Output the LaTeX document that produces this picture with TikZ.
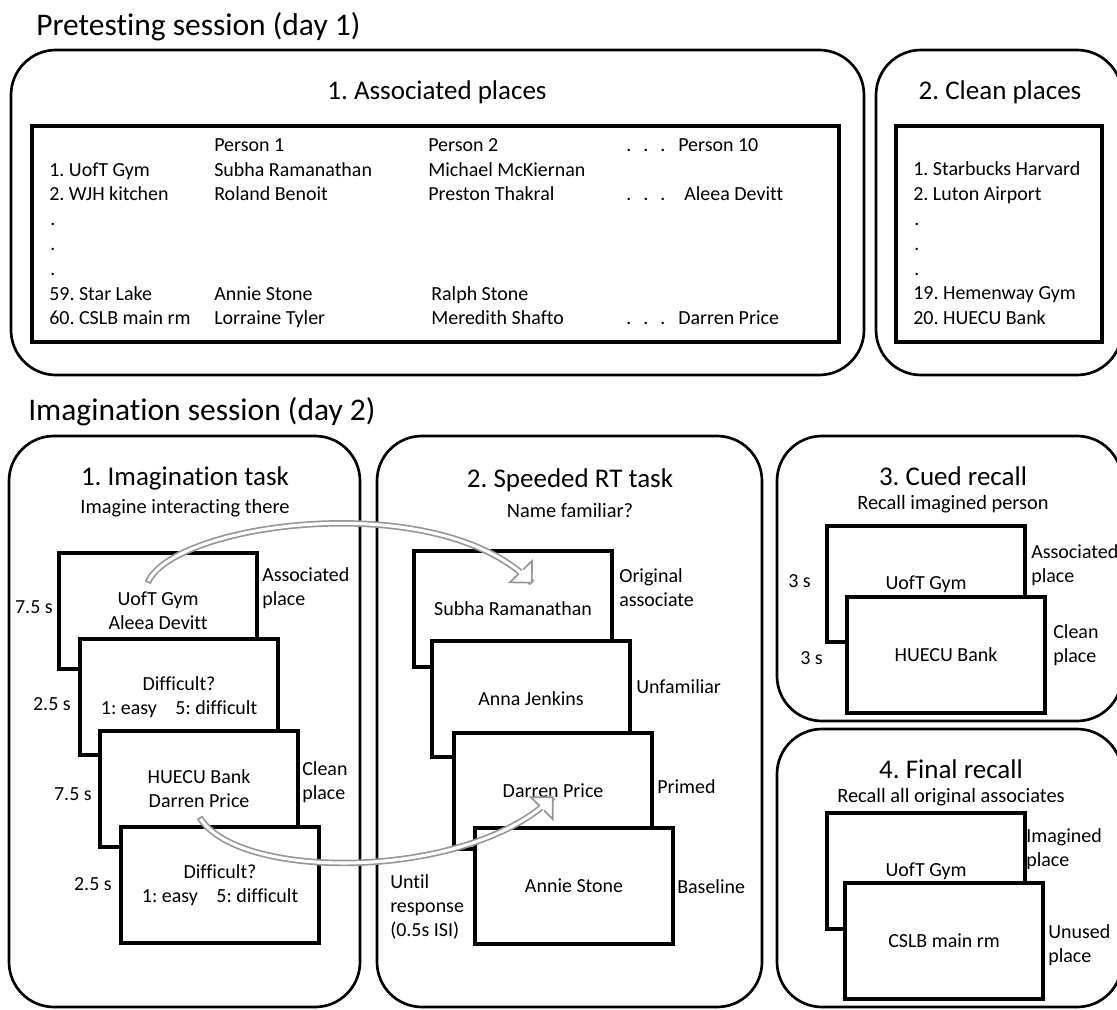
\documentclass[tikz,border=0pt]{standalone}
\usepackage{fontspec}
\setmainfont{Carlito}[Ligatures={NoCommon,NoContextual}]
\usetikzlibrary{decorations.markings}

\definecolor{arrowgray}{RGB}{150,150,150}
\newcommand{\sessionfont}{\fontsize{22.4}{26}\selectfont}
\newcommand{\titlefont}{\fontsize{19.2}{22}\selectfont}
\newcommand{\subfont}{\fontsize{14.5}{17}\selectfont}
\newcommand{\bodyfont}{\fontsize{14.2}{17.1}\selectfont}
\frenchspacing

\begin{document}
\begin{tikzpicture}[x=0.025cm, y=-0.025cm,
		panel/.style={line width=1.9pt, rounded corners=1.125cm},
		listbox/.style={line width=2.35pt},
		session/.style={anchor=west, inner sep=0pt, font=\sessionfont},
		title/.style={inner sep=0pt, font=\titlefont},
		subtitle/.style={inner sep=0pt, font=\subfont},
		cell/.style={anchor=base west, inner sep=0pt, font=\bodyfont},
		note/.style={inner sep=0pt, font=\bodyfont, align=left},
		screen/.style={draw, line width=2.9pt, fill=white, anchor=north west,
			minimum width=4.95cm, minimum height=2.9cm, inner sep=0pt,
			align=center, font=\bodyfont},
		hollow/.style={white, line width=2.2pt,
			preaction={draw=arrowgray, line width=4.6pt},
			postaction={decorate, decoration={markings,
				mark=at position 0 with {\draw[arrowgray, line width=1.2pt] (0,-2.3pt) -- (0,2.3pt);},
				mark=at position 0.999 with {\draw[arrowgray, fill=white, line width=1.2pt]
					(-11pt,2.3pt) -- (-11pt,11pt) -- (0,0) -- (-11pt,-11pt) -- (-11pt,-2.3pt);}}}}]
	\useasboundingbox (0,0) rectangle (1117,1010);

	% Session headers
	\node[session] (pre) at (36,27) {Pretesting session (day 1)};
	\node[session] (ima) at (28,412) {Imagination session (day 2)};

	% Pretesting panels
	\draw[panel] (11,50) rectangle (864,375);
	\draw[panel] (876,50) rectangle (1122,375);
	\node[title] (assoc) at (437,92) {1. Associated places};
	\node[title] (clean) at (1000,92) {2. Clean places};
	\draw[listbox] (32,126) rectangle (839,342);
	\draw[listbox] (896,126) rectangle (1102,342);

	% -- associated list
	\node[cell] (h1) at (214,152) {Person 1};
	\node[cell] (h2) at (428,152) {Person 2};
	\node[cell] (hd) at (626,152) {.\hspace{8.5pt}.\hspace{8.5pt}.};
	\node[cell] (h10) at (678,152) {Person 10};

	\node[cell] (r1) at (49,177) {1. UofT Gym};
	\node[cell] (r1a) at (214,177) {Subha Ramanathan};
	\node[cell] (r1b) at (428,177) {Michael McKiernan};

	\node[cell] (r2) at (49,201) {2. WJH kitchen};
	\node[cell] (r2a) at (214,201) {Roland Benoit};
	\node[cell] (r2b) at (428,201) {Preston Thakral};
	\node[cell] (r2d) at (626,201) {.\hspace{8.5pt}.\hspace{8.5pt}.};
	\node[cell] (r2c) at (684,201) {Aleea Devitt};

	\foreach \y [count=\i] in {226,251,276}
		\node[cell] (dot\i) at (50,\y) {.};

	\node[cell] (r59) at (49,301) {59. Star Lake};
	\node[cell] (r59a) at (214,301) {Annie Stone};
	\node[cell] (r59b) at (431,301) {Ralph Stone};

	\node[cell] (r60) at (49,325) {60. CSLB main rm};
	\node[cell] (r60a) at (214,325) {Lorraine Tyler};
	\node[cell] (r60b) at (431,325) {Meredith Shafto};
	\node[cell] (r60d) at (626,325) {.\hspace{8.5pt}.\hspace{8.5pt}.};
	\node[cell] (r60c) at (678,325) {Darren Price};

	% -- clean list
	\node[cell] (c1) at (913,176) {1. Starbucks Harvard};
	\node[cell] (c2) at (913,201) {2. Luton Airport};
	\foreach \y [count=\i] in {226,251,276}
		\node[cell] (cdot\i) at (914,\y) {.};
	\node[cell] (c19) at (913,300) {19. Hemenway Gym};
	\node[cell] (c20) at (913,325) {20. HUECU Bank};

	% Imagination panels
	\draw[panel] (9,436) rectangle (360,1007);
	\draw[panel] (377,436) rectangle (762,1007);
	\draw[panel] (777,436) rectangle (1122,721);
	\draw[panel] (777,729) rectangle (1122,1007);

	% -- panel headers
	\node[title] (imt) at (185,478) {1. Imagination task};
	\node[subtitle] (ims) at (185,508) {Imagine interacting there};
	\node[title] (spt) at (570,480) {2. Speeded RT task};
	\node[subtitle] (sps) at (570,510) {Name familiar?};
	\node[title] (cut) at (953,476) {3. Cued recall};
	\node[subtitle] (cus) at (953,504) {Recall imagined person};
	\node[title] (fit) at (951,769) {4. Final recall};
	\node[subtitle] (fis) at (951,797) {Recall all original associates};

	% -- imagination task screens
	\node[screen] (imA) at (57,551) {UofT Gym\\Aleea Devitt};
	\node[screen] (imB) at (78,637) {Difficult?\\1: easy\hspace{0.7em} 5: difficult};
	\node[screen] (imC) at (98,729) {HUECU Bank\\Darren Price};
	\node[screen] (imD) at (119,825) {Difficult?\\1: easy\hspace{0.7em} 5: difficult};

	\node[note, anchor=east] (tA) at (53,607) {7.5 s};
	\node[note, anchor=east] (tB) at (71,704) {2.5 s};
	\node[note, anchor=east] (tC) at (92,794) {7.5 s};
	\node[note, anchor=east] (tD) at (112,884) {2.5 s};
	\node[note, anchor=west] (lA) at (262,588) {Associated\\place};
	\node[note, anchor=west] (lC) at (302,782) {Clean\\place};

	% -- speeded RT screens
	\node[screen] (spA) at (412,549) {Subha Ramanathan};
	\node[screen] (spB) at (430,639) {Anna Jenkins};
	\node[screen] (spC) at (452,731) {Darren Price};
	\node[screen] (spD) at (473,826) {Annie Stone};

	\node[note, anchor=west] (lspA) at (619,588) {Original\\associate};
	\node[note, anchor=west] (lspB) at (636,687) {Unfamiliar};
	\node[note, anchor=west] (lspC) at (657,787) {Primed};
	\node[note, anchor=west] (lspD) at (677,887) {Baseline};
	\node[note, anchor=west] (until) at (390,907) {Until\\response\\(0.5s ISI)};

	% -- cued recall screens
	\node[screen] (cuA) at (825,524) {UofT Gym};
	\node[screen] (cuB) at (845,595) {HUECU Bank};
	\node[note, anchor=west] (tcuA) at (788,581) {3 s};
	\node[note, anchor=west] (tcuB) at (800,658) {3 s};
	\node[note, anchor=west] (lcuA) at (1031,565) {Associated\\place};
	\node[note, anchor=west] (lcuB) at (1053,645) {Clean\\place};

	% -- final recall screens
	\node[screen] (fiA) at (825,811) {UofT Gym};
	\node[screen] (fiB) at (843,881) {CSLB main rm};
	\node[note, anchor=west] (lfiA) at (1026,849) {Imagined\\place};
	\node[note, anchor=west] (lfiB) at (1048,945) {Unused\\place};

	% Priming arrows
	\coordinate (tailA) at (148,582);
	\coordinate (headS) at (532,583);
	\coordinate (tailC) at (200,818);
	\coordinate (headP) at (553,797);
	\draw[hollow] (tailA) .. controls +(27,-60) and +(-92,-96) .. (headS);
	\draw[hollow] (tailC) .. controls +(40,64) and +(-83,83) .. (headP);
\end{tikzpicture}
\end{document}
